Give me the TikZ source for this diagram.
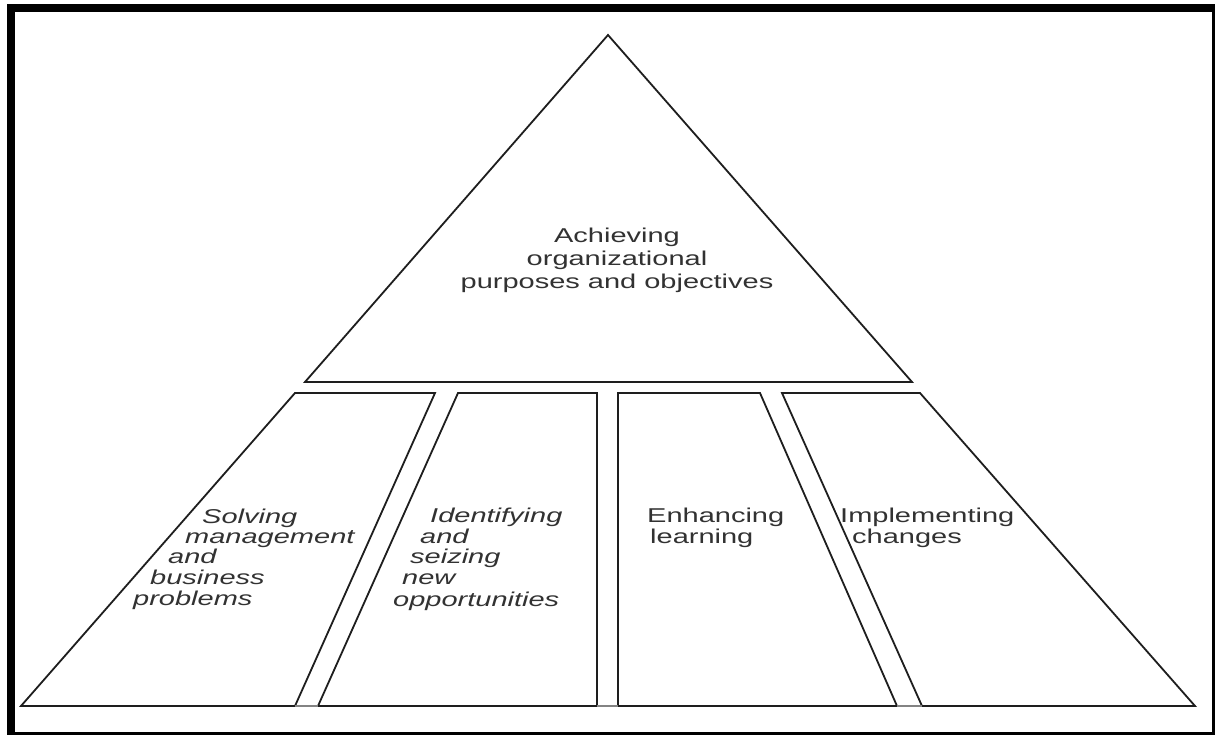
\documentclass[tikz,border=0pt]{standalone}
\usepackage{fontspec}
\newfontfamily\labfont[FakeStretch=1.45]{Liberation Sans}
\definecolor{linecol}{RGB}{30,30,30}
\definecolor{textcol}{RGB}{50,50,50}
\begin{document}
\begin{tikzpicture}[x=1pt,y=-1pt,
  shapeline/.style={draw=linecol, line width=1.8pt, line join=miter},
  lab/.style={inner sep=0pt, text=textcol, font=\labfont\fontsize{20}{23}\selectfont},
  itlab/.style={lab, font=\labfont\itshape\fontsize{20}{23}\selectfont}]
\useasboundingbox (0,0) rectangle (1215,735);
% frame
\fill[black] (7,4) rectangle (1215,735);
\fill[white] (15,12) rectangle (1212,732);
% apex triangle
\draw[shapeline] (608,35) -- (912,382) -- (305,382) -- cycle;
% pillars
\draw[shapeline] (295,393) -- (435,393) -- (295,706) -- (21,706) -- cycle;
\draw[shapeline] (458,393) -- (597,393) -- (597,706) -- (318,706) -- cycle;
\draw[shapeline] (618,393) -- (760,393) -- (897,706) -- (618,706) -- cycle;
\draw[shapeline] (782,393) -- (920,393) -- (1195,706) -- (922,706) -- cycle;
\draw[draw=linecol!55, line width=1.5pt] (295,706) -- (318,706) (597,706) -- (618,706) (897,706) -- (922,706);
% texts
\node[lab, align=center, anchor=base] (top) at (617,288) {Achieving\\organizational\\purposes and objectives};
\node[itlab, anchor=base west] (s1) at (202,523) {Solving};
\node[itlab, anchor=base west] (s2) at (185,543) {management};
\node[itlab, anchor=base west] (s3) at (168,563) {and};
\node[itlab, anchor=base west] (s4) at (150,584) {business};
\node[itlab, anchor=base west] (s5) at (133,605) {problems};
\node[itlab, anchor=base west] (i1) at (430,522) {Identifying};
\node[itlab, anchor=base west] (i2) at (420,543) {and};
\node[itlab, anchor=base west] (i3) at (410,563) {seizing};
\node[itlab, anchor=base west] (i4) at (402,584) {new};
\node[itlab, anchor=base west] (i5) at (393,606) {opportunities};
\node[lab, anchor=base west] (e1) at (647,522) {Enhancing};
\node[lab, anchor=base west] (e2) at (650,543) {learning};
\node[lab, anchor=base west] (m1) at (840,522) {Implementing};
\node[lab, anchor=base west] (m2) at (852,543) {changes};
\end{tikzpicture}
\end{document}
